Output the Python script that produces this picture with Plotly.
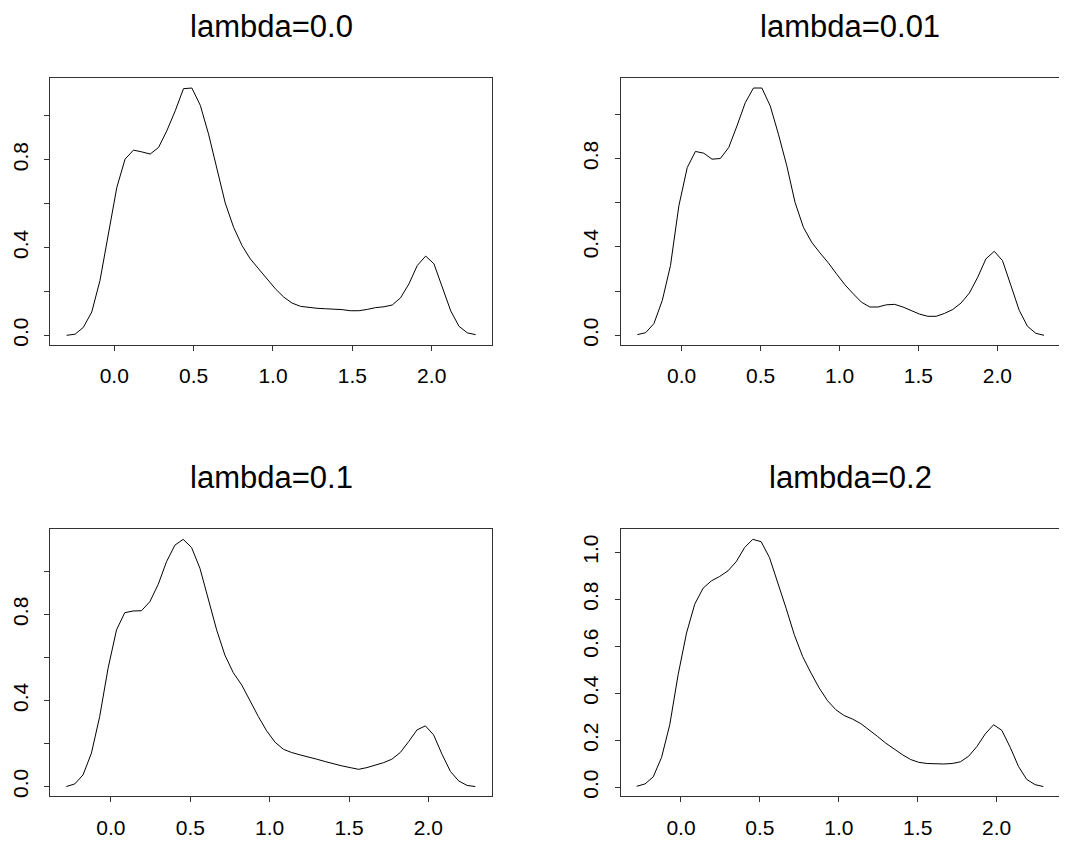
import plotly.graph_objects as go

# the page body has an 8px margin, so the figure is drawn 8px in from the corner
OFF = 8
W, H = 1067 - OFF, 846 - OFF

# evaluation grids
x_a = [-0.300, -0.247, -0.195, -0.142, -0.090, -0.037, 0.016, 0.068, 0.121, 0.173,
       0.226, 0.279, 0.331, 0.384, 0.436, 0.489, 0.542, 0.594, 0.647, 0.699,
       0.752, 0.805, 0.857, 0.910, 0.962, 1.015, 1.068, 1.120, 1.173, 1.225,
       1.278, 1.331, 1.383, 1.436, 1.488, 1.541, 1.594, 1.646, 1.699, 1.751,
       1.804, 1.857, 1.909, 1.962, 2.014, 2.067, 2.120, 2.172, 2.225, 2.277]
x_b = [-0.281, -0.228, -0.176, -0.123, -0.071, -0.018, 0.035, 0.087, 0.140, 0.192,
       0.245, 0.298, 0.350, 0.403, 0.455, 0.508, 0.561, 0.613, 0.666, 0.718,
       0.771, 0.824, 0.876, 0.929, 0.981, 1.034, 1.087, 1.139, 1.192, 1.244,
       1.297, 1.350, 1.402, 1.455, 1.507, 1.560, 1.613, 1.665, 1.718, 1.770,
       1.823, 1.876, 1.928, 1.981, 2.033, 2.086, 2.139, 2.191, 2.244, 2.296]

titles = ["lambda=0.0", "lambda=0.01", "lambda=0.1", "lambda=0.2"]

y_l00 = [0.000, 0.005, 0.036, 0.106, 0.250, 0.455, 0.674, 0.803, 0.844, 0.836,
         0.826, 0.856, 0.932, 1.023, 1.124, 1.127, 1.048, 0.917, 0.758, 0.603,
         0.492, 0.409, 0.348, 0.303, 0.258, 0.212, 0.174, 0.147, 0.132, 0.126,
         0.123, 0.121, 0.120, 0.117, 0.112, 0.112, 0.118, 0.126, 0.130, 0.138,
         0.171, 0.235, 0.318, 0.361, 0.326, 0.220, 0.111, 0.041, 0.011, 0.003]
y_l001 = [0.003, 0.012, 0.053, 0.158, 0.316, 0.586, 0.759, 0.832, 0.824, 0.797,
          0.800, 0.850, 0.947, 1.053, 1.119, 1.119, 1.038, 0.910, 0.767, 0.602,
          0.489, 0.421, 0.373, 0.328, 0.278, 0.229, 0.188, 0.150, 0.128, 0.128,
          0.138, 0.140, 0.128, 0.110, 0.096, 0.086, 0.086, 0.099, 0.117, 0.146,
          0.191, 0.263, 0.346, 0.380, 0.338, 0.226, 0.113, 0.041, 0.009, 0.000]
y_l01 = [0.000, 0.012, 0.054, 0.155, 0.325, 0.550, 0.728, 0.808, 0.816, 0.817,
         0.859, 0.940, 1.045, 1.122, 1.149, 1.111, 1.014, 0.867, 0.728, 0.611,
         0.529, 0.472, 0.398, 0.325, 0.259, 0.206, 0.173, 0.158, 0.147, 0.138,
         0.127, 0.116, 0.105, 0.096, 0.088, 0.080, 0.088, 0.098, 0.111, 0.127,
         0.158, 0.209, 0.263, 0.282, 0.240, 0.150, 0.070, 0.026, 0.005, 0.000]
y_l02 = [0.004, 0.014, 0.044, 0.127, 0.266, 0.479, 0.656, 0.779, 0.847, 0.878,
         0.897, 0.921, 0.960, 1.020, 1.055, 1.045, 0.977, 0.875, 0.762, 0.649,
         0.556, 0.486, 0.422, 0.368, 0.330, 0.305, 0.290, 0.271, 0.245, 0.217,
         0.188, 0.163, 0.139, 0.118, 0.106, 0.101, 0.099, 0.099, 0.101, 0.108,
         0.132, 0.174, 0.227, 0.266, 0.242, 0.170, 0.088, 0.033, 0.011, 0.003]

x_ticks = [0.0, 0.5, 1.0, 1.5, 2.0]
x_tick_text = ["0.0", "0.5", "1.0", "1.5", "2.0"]
y_ticks = [0.0, 0.2, 0.4, 0.6, 0.8, 1.0]
y_tick_text_sparse = ["0.0", "", "0.4", "", "0.8", ""]
y_tick_text_full = ["0.0", "0.2", "0.4", "0.6", "0.8", "1.0"]

# boxes in page pixels: (left, right, top, bottom)
panels = [
    dict(x=x_a, y=y_l00, title=titles[0], box=(50, 491.7, 78.3, 346), xr=(-0.405, 2.378),
         ytext=y_tick_text_sparse, mirror_y=True, tx=271),
    dict(x=x_b, y=y_l001, title=titles[1], box=(620.7, 1067, 78.3, 346), xr=(-0.3866, 2.4417),
         ytext=y_tick_text_sparse, mirror_y=False, tx=850),
    dict(x=x_b, y=y_l01, title=titles[2], box=(50, 491.7, 530.7, 798.3), xr=(-0.384, 2.399),
         ytext=y_tick_text_sparse, mirror_y=True, tx=271),
    dict(x=x_b, y=y_l02, title=titles[3], box=(620.7, 1067, 530.7, 798.3), xr=(-0.382, 2.446),
         ytext=y_tick_text_full, mirror_y=False, tx=850),
]


def px_x(p):
    return (p - OFF) / W


def px_y(p):
    return 1 - (p - OFF) / H


FONT = "Liberation Sans, Arial, Helvetica, sans-serif"
LINE = "#333333"

fig = go.Figure()
layout = dict(width=W, height=H, margin=dict(l=0, r=0, t=0, b=0),
              paper_bgcolor="white", plot_bgcolor="white", showlegend=False,
              font=dict(family=FONT, color="black"))
annotations = []
for i, p in enumerate(panels, start=1):
    xa = "x" if i == 1 else f"x{i}"
    ya = "y" if i == 1 else f"y{i}"
    fig.add_trace(go.Scatter(x=p["x"], y=p["y"], mode="lines",
                             line=dict(color="black", width=1),
                             xaxis=xa, yaxis=ya, hoverinfo="skip"))
    x0, x1, y0, y1 = p["box"]
    ymax = max(p["y"]); ymin = min(p["y"])
    span = ymax - ymin
    layout["xaxis" if i == 1 else f"xaxis{i}"] = dict(
        domain=[px_x(x0), min(px_x(x1), 1.0)], range=list(p["xr"]), anchor=ya,
        showline=True, mirror=True, linecolor=LINE, linewidth=1,
        ticks="outside", ticklen=5, tickcolor=LINE, tickwidth=1,
        tickvals=x_ticks, ticktext=x_tick_text, showgrid=False, zeroline=False,
        tickfont=dict(size=21, family=FONT, color="black"), ticklabelstandoff=7)
    layout["yaxis" if i == 1 else f"yaxis{i}"] = dict(
        domain=[px_y(y1), px_y(y0)], range=[ymin - 0.04 * span, ymax + 0.04 * span],
        anchor=xa, showline=True, mirror=p["mirror_y"], linecolor=LINE, linewidth=1,
        ticks="outside", ticklen=5, tickcolor=LINE, tickwidth=1,
        tickvals=y_ticks, ticktext=p["ytext"], tickangle=-90, showgrid=False, zeroline=False,
        tickfont=dict(size=21, family=FONT, color="black"), ticklabelstandoff=8)
    annotations.append(dict(text=p["title"], x=px_x(p["tx"]), y=px_y(y0 - 52),
                            xref="paper", yref="paper", xanchor="center", yanchor="middle",
                            borderpad=0, showarrow=False,
                            font=dict(size=31, family=FONT, color="black")))
layout["annotations"] = annotations
fig.update_layout(**layout)
fig.write_html("out.html")
